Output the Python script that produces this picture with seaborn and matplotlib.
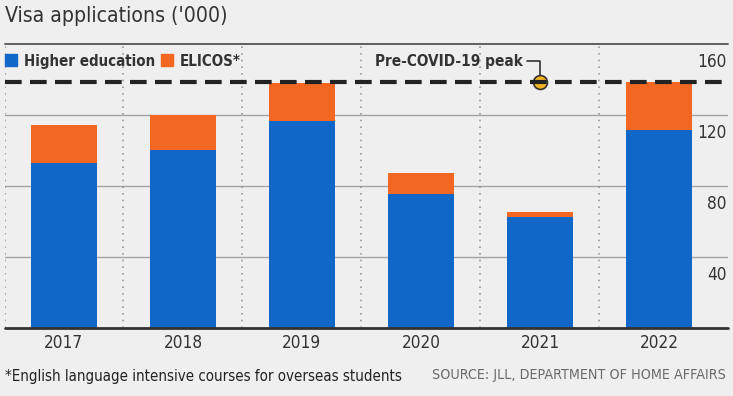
import seaborn as sns
import matplotlib.pyplot as plt
import matplotlib.transforms as mtransforms
from matplotlib.lines import Line2D
import pandas as pd

sns.set_theme(style="white")
plt.rcParams['font.family'] = ['DejaVu Sans']
plt.rcParams['font.stretch'] = 'condensed'

# data ('000 visa applications)
years = ["2017", "2018", "2019", "2020", "2021", "2022"]
higher_ed = [93.0, 100.0, 116.4, 75.3, 62.6, 111.4]
elicos = [21.2, 20.0, 21.6, 11.8, 2.5, 27.0]
peak = 138.4
yticks = [40, 80, 120, 160]

BLUE = "#1167c8"
ORANGE = "#f26722"
BG = "#efefef"

df = pd.DataFrame({"year": years, "higher": higher_ed, "elicos": elicos})
df["total"] = df["higher"] + df["elicos"]

fig = plt.figure(figsize=(7.33, 3.96), dpi=100, facecolor=BG)
ax = fig.add_axes([4.5 / 733, 68 / 396, 723.5 / 733, 284.4 / 396])
ax.set_facecolor(BG)

# stacked bars: total in orange, higher education on top in blue
sns.barplot(data=df, x="year", y="total", color=ORANGE, saturation=1,
            width=0.55, linewidth=0, ax=ax, zorder=3)
sns.barplot(data=df, x="year", y="higher", color=BLUE, saturation=1,
            width=0.55, linewidth=0, ax=ax, zorder=4)

ax.set_xlim(-0.5, 5.58)
ax.set_ylim(0, 160)
for s in ax.spines.values():
    s.set_visible(False)
ax.set_xlabel("")
ax.set_ylabel("")

# horizontal gridlines
for v in yticks[:-1]:
    ax.axhline(v, color="#a3a3a3", lw=1, zorder=1)
ax.axhline(yticks[-1], color="#555555", lw=1.3, zorder=1, clip_on=False)
ax.axhline(0, color="#333333", lw=2, zorder=6, clip_on=False)

# dotted vertical separators
for i in range(len(years)):
    ax.axvline(i - 0.5, color="#9a9a9a", lw=1.2, ls=(0, (1, 3)), zorder=2)

# y tick labels on the right, sitting under each gridline
ax.yaxis.tick_right()
ax.set_yticks(yticks)
ax.set_yticklabels([str(v) for v in yticks])
ax.tick_params(axis="y", length=0, pad=-1, labelsize=12.3, labelcolor="#333333")
off = mtransforms.ScaledTranslation(0, -6.5 / 72, fig.dpi_scale_trans)
for t in ax.get_yticklabels():
    t.set_ha("right")
    t.set_va("top")
    t.set_transform(t.get_transform() + off)

ax.tick_params(axis="x", length=0, pad=4, labelsize=12.3, labelcolor="#333333")

# pre-COVID peak line and marker
ax.axhline(peak, color="#222222", lw=3, ls=(0, (4, 2)), zorder=7)
peak_i = years.index("2021")
ax.plot([peak_i], [peak], marker="o", ms=10, mfc="#f0b323", mec="#333333",
        mew=1.2, zorder=6.5, clip_on=False)
ax.plot([peak_i - 0.11, peak_i, peak_i], [150.2, 150.2, 142.5],
        color="#333333", lw=1.2, zorder=7)
ax.text(peak_i - 0.14, 150.2, "Pre-COVID-19 peak", ha="right", va="center",
        fontsize=11, fontweight="bold", color="#333333", zorder=8)

# legend
handles = [
    Line2D([], [], marker="s", ls="", ms=8.5, mfc=BLUE, mec=BLUE),
    Line2D([], [], marker="s", ls="", ms=8.5, mfc=ORANGE, mec=ORANGE),
]
leg = ax.legend(handles, ["Higher education", "ELICOS*"], ncol=2,
                loc="center left", bbox_to_anchor=(-0.01, 150.2 / 160),
                frameon=False, handlelength=0.8, handletextpad=0.5,
                columnspacing=0.35, borderpad=0,
                prop={"weight": "bold", "size": 10.8, "stretch": "condensed"})
for t in leg.get_texts():
    t.set_color("#333333")

# title and footer
fig.text(5 / 733, 1 - 16 / 396, "Visa applications ('000)", fontsize=15.2,
         color="#333333", va="center", ha="left")
fig.text(5 / 733, 1 - 376 / 396,
         "*English language intensive courses for overseas students",
         fontsize=10.8, color="#222222", va="center", ha="left")
fig.text(726 / 733, 1 - 375 / 396, "SOURCE: JLL, DEPARTMENT OF HOME AFFAIRS",
         fontsize=10.3, color="#6a6a6a", va="center", ha="right")

fig.savefig("out.png", dpi=100, facecolor=BG)
